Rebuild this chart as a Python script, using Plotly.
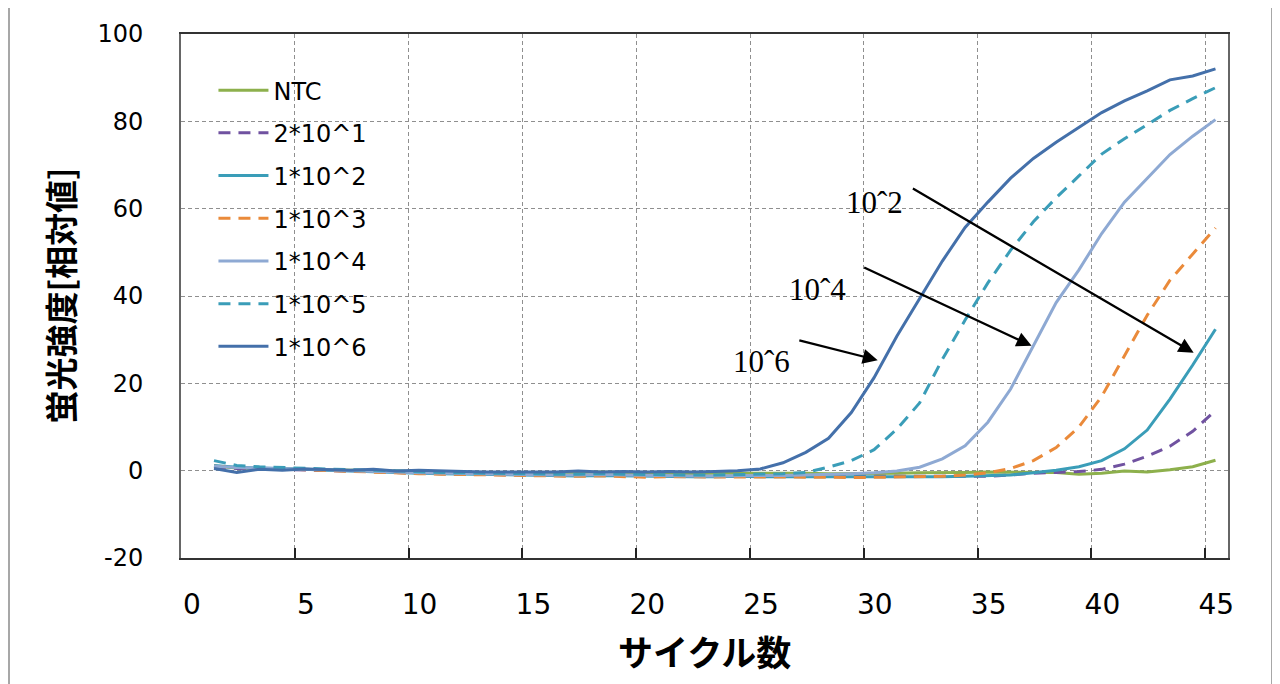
import plotly.graph_objects as go

cycles = list(range(1, 46))

ntc = [1.0, 0.6, 0.5, 0.4, 0.3, 0.2, 0.1, 0.0, -0.2, -0.3, -0.4, -0.4, -0.5, -0.5, -0.5,
       -0.6, -0.5, -0.3, -0.5, -0.6, -0.6, -0.7, -0.6, -0.6, -0.5, -0.6, -0.6, -0.7, -0.7, -0.6,
       -0.6, -0.5, -0.5, -0.4, -0.3, -0.3, -0.3, -0.4, -0.8, -0.6, -0.1, -0.3, 0.2, 0.9, 2.4]
s2e1 = [0.8, 0.5, 0.4, 0.3, 0.2, 0.0, -0.1, -0.2, -0.4, -0.6, -0.7, -0.8, -0.9, -0.9, -1.0,
        -1.1, -1.1, -1.0, -1.1, -1.2, -1.2, -1.3, -1.3, -1.2, -1.3, -1.3, -1.4, -1.4, -1.4, -1.4,
        -1.4, -1.4, -1.3, -1.3, -1.3, -1.0, -0.6, -0.4, -0.2, 0.3, 1.5, 3.3, 5.6, 9.0, 13.8]
s1e2 = [1.2, 0.8, 0.6, 0.5, 0.3, 0.1, -0.1, -0.2, -0.4, -0.6, -0.7, -0.8, -0.9, -1.0, -1.1,
        -1.2, -1.2, -1.1, -1.2, -1.3, -1.3, -1.4, -1.4, -1.3, -1.4, -1.4, -1.4, -1.5, -1.5, -1.4,
        -1.4, -1.4, -1.4, -1.3, -1.2, -1.0, -0.5, 0.1, 0.9, 2.3, 5.0, 9.3, 16.4, 24.2, 32.4]
s1e3 = [1.0, 0.7, 0.5, 0.4, 0.2, 0.0, -0.2, -0.3, -0.5, -0.7, -0.8, -0.9, -1.0, -1.1, -1.2,
        -1.3, -1.3, -1.2, -1.4, -1.5, -1.4, -1.4, -1.5, -1.4, -1.4, -1.5, -1.5, -1.5, -1.6, -1.5,
        -1.5, -1.4, -1.3, -1.0, -0.5, 0.5, 2.3, 5.3, 10.0, 17.0, 26.4, 35.6, 43.6, 49.5, 55.6]
s1e4 = [1.0, 0.7, 0.6, 0.5, 0.4, 0.2, 0.0, -0.1, -0.3, -0.5, -0.6, -0.7, -0.8, -0.8, -0.9,
        -1.0, -1.0, -0.9, -1.0, -1.1, -1.1, -1.2, -1.2, -1.1, -1.1, -1.1, -1.0, -0.9, -0.7, -0.5,
        -0.1, 0.8, 2.7, 5.7, 11.1, 18.7, 28.6, 38.5, 46.0, 54.3, 61.5, 67.0, 72.4, 76.6, 80.4]
s1e5 = [2.3, 1.2, 0.9, 0.7, 0.5, 0.4, 0.2, 0.1, -0.1, -0.3, -0.4, -0.5, -0.6, -0.6, -0.7,
        -0.8, -0.8, -0.7, -0.8, -0.9, -0.9, -1.0, -1.0, -0.9, -0.8, -0.7, -0.4, 0.8, 2.3, 4.8,
        9.5, 15.5, 25.5, 34.5, 43.0, 50.5, 57.0, 62.5, 67.5, 72.5, 76.0, 79.2, 82.5, 85.2, 87.7]
s1e6 = [0.5, -0.4, 0.3, 0.1, 0.4, 0.2, 0.1, 0.3, -0.1, 0.1, -0.1, -0.2, -0.3, -0.3, -0.4,
        -0.3, -0.1, -0.3, -0.2, -0.3, -0.2, -0.3, -0.2, 0.0, 0.4, 1.8, 4.2, 7.4, 13.3, 21.3,
        30.8, 39.5, 48.0, 55.7, 61.5, 67.0, 71.5, 75.2, 78.6, 82.0, 84.7, 87.0, 89.5, 90.4, 92.0]

names = ["NTC", "2*10^1", "1*10^2", "1*10^3", "1*10^4", "1*10^5", "1*10^6"]
series = [ntc, s2e1, s1e2, s1e3, s1e4, s1e5, s1e6]
colors = ["#8DB04C", "#7052A0", "#3A9DB8", "#EA8A3A", "#8EA9D3", "#3A9DB8", "#4470AA"]
dashes = ["solid", "12px,8px", "solid", "12px,8px", "solid", "12px,8px", "solid"]

x_ticks = [0, 5, 10, 15, 20, 25, 30, 35, 40, 45]
y_ticks = [-20, 0, 20, 40, 60, 80, 100]

# Points sit slightly right of the integer cycle positions in the source chart
x_pos = [c + 0.45 for c in cycles]

fig = go.Figure()
for i, (nm, ys, col, dsh) in enumerate(zip(names, series, colors, dashes)):
    fig.add_trace(go.Scatter(
        x=x_pos, y=ys, mode="lines", name=nm, legendgroup=nm,
        line=dict(color=col, width=3, dash=dsh),
    ))

grid = dict(showgrid=True, gridcolor="#8f8f8f", gridwidth=1, griddash="4px,3px")

fig.update_layout(
    width=1280, height=684,
    margin=dict(l=173, r=60, t=26, b=134, autoexpand=False),
    paper_bgcolor="white", plot_bgcolor="white",
    font=dict(family="DejaVu Sans", color="black"),
    showlegend=True,
    legend=dict(
        x=0.031, y=0.935, xanchor="left", yanchor="top",
        bgcolor="rgba(0,0,0,0)", font=dict(family="DejaVu Sans", size=24, color="black"),
        traceorder="grouped", tracegroupgap=8.5, itemwidth=50,
    ),
    xaxis=dict(
        range=[0, 46], tickmode="array", tickvals=x_ticks, ticktext=[str(v) for v in x_ticks],
        ticks="inside", ticklen=10, tickwidth=2, tickcolor="#222",
        showline=True, linecolor="#333", linewidth=2, mirror=True,
        tickfont=dict(family="DejaVu Sans", size=28, color="black"),
        ticklabelstandoff=20, ticklabelshift=11, zeroline=False, **grid,
    ),
    yaxis=dict(
        range=[-20, 100], tickmode="array", tickvals=y_ticks, ticktext=[str(v) for v in y_ticks],
        ticks="", showline=True, linecolor="#666", linewidth=2, mirror=True,
        tickfont=dict(family="DejaVu Sans", size=24, color="black"),
        ticklabelstandoff=31, zeroline=False, **grid,
    ),
)

# axis titles
fig.add_annotation(text="<b>サイクル数</b>", xref="paper", yref="paper", x=0.5, y=-0.176,
                   xanchor="center", yanchor="middle", showarrow=False,
                   font=dict(family="Noto Sans CJK JP", size=35, color="black"))
fig.add_annotation(text="<b>蛍光強度[相対値]</b>", xref="paper", yref="paper", x=-0.116, y=0.5,
                   xanchor="center", yanchor="middle", showarrow=False, textangle=-90,
                   font=dict(family="Noto Sans CJK JP", size=33, color="black"))

# labels and arrows
labels = [("10ˆ2", 30.48, 61.5), ("10ˆ4", 27.98, 41.6), ("10ˆ6", 25.5, 24.9)]
for txt, lx, ly in labels:
    fig.add_annotation(text=txt, x=lx, y=ly, xref="x", yref="y", showarrow=False,
                       font=dict(family="Liberation Serif", size=31, color="black"))

arrows = [(44.49, 27.0, 32.09, 64.8), (37.37, 28.6, 29.95, 46.7), (30.61, 25.3, 27.1, 29.9)]
for tx, ty, sx, sy in arrows:
    fig.add_annotation(x=tx, y=ty, ax=sx, ay=sy, xref="x", yref="y", axref="x", ayref="y",
                       text="", showarrow=True, arrowhead=2, arrowsize=1.3, arrowwidth=2.3,
                       arrowcolor="black", standoff=0)

# outer chart-area frame (left and right edges visible)
for xp in [(9 - 181) / 1047, (1272 - 181) / 1047]:
    fig.add_shape(type="line", xref="paper", yref="paper", x0=xp, x1=xp, y0=-0.5, y1=1.2,
                  line=dict(color="#8a8a8a", width=1.5))

fig.write_html("out.html")
